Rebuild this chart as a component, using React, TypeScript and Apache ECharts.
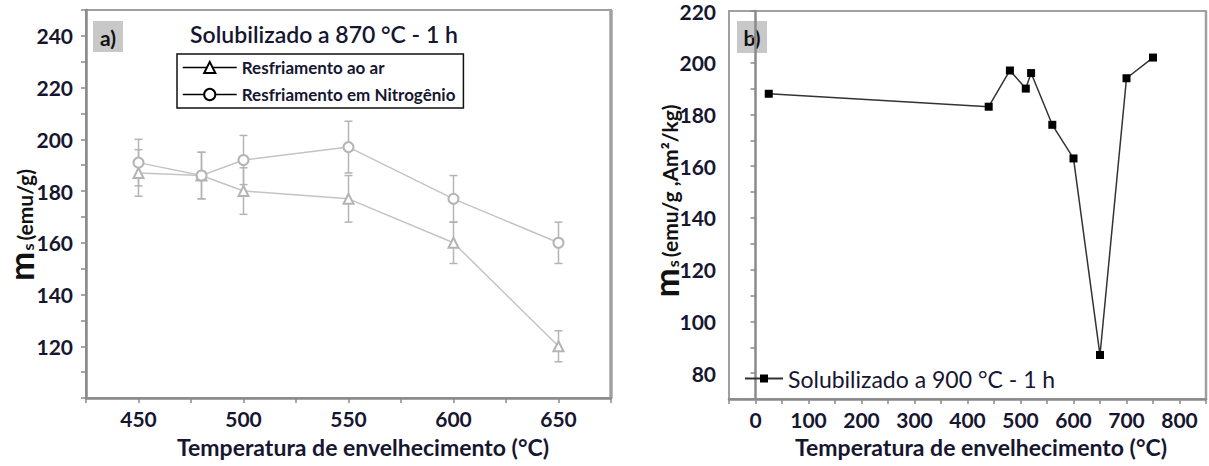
import React, { useEffect, useRef } from "react";
import * as echarts from "echarts";

// Panel a) data
const tempsA = [450, 480, 500, 550, 600, 650];
const airValues = [187, 186, 180, 177, 160, 120];
const airErrors = [9, 9, 9, 9, 8, 6];
const nitroValues = [191, 186, 192, 197, 177, 160];
const nitroErrors = [9, 9, 9.5, 10, 9, 8];

// Panel b) data
const tempsB = [25, 440, 480, 510, 520, 560, 600, 650, 700, 750];
const msB = [188, 183, 197, 190, 196, 176, 163, 87, 194, 202];

const FONT = "Lato, 'Open Sans', sans-serif";
const TXT = "#161630";

function errData(xs: number[], v: number[], e: number[]) {
  return xs.map((x, i) => [x, v[i] - e[i], v[i] + e[i]]);
}

export default function App() {
  const ref = useRef<HTMLDivElement>(null);
  useEffect(() => {
    document.body.style.margin = "0";
    const chart = echarts.init(ref.current!, null, { renderer: "svg" });

    const errRender = (params: any, api: any) => {
      const x = api.value(0);
      const lo = api.coord([x, api.value(1)]);
      const hi = api.coord([x, api.value(2)]);
      const w = 4;
      const st = { stroke: "#b4b4b4", lineWidth: 1.5 };
      return {
        type: "group",
        children: [
          { type: "line", shape: { x1: lo[0], y1: lo[1], x2: hi[0], y2: hi[1] }, style: st },
          { type: "line", shape: { x1: lo[0] - w, y1: lo[1], x2: lo[0] + w, y2: lo[1] }, style: st },
          { type: "line", shape: { x1: hi[0] - w, y1: hi[1], x2: hi[0] + w, y2: hi[1] }, style: st },
        ],
      };
    };

    const axisCommon = {
      axisLine: { show: true, lineStyle: { color: "#8a8a8a", width: 2.5 } },
      axisTick: { show: true, length: 5, lineStyle: { color: "#8a8a8a", width: 1.5 } },
      splitLine: { show: false },
    };
    const labelStyle = { color: TXT, fontFamily: FONT, fontWeight: "bold", fontSize: 21 };

    const yName = (t: string) => `{m|m}{s|s}{u|${t}}`;
    const yRich = {
      m: { fontSize: 35, fontWeight: "bold", fontFamily: FONT, fill: "#111", verticalAlign: "bottom" },
      s: { fontSize: 16, fontWeight: "bold", fontFamily: FONT, fill: "#111", verticalAlign: "bottom", padding: [0, 3, 2, 1] },
      u: { fontSize: 21, fontWeight: "bold", fontFamily: FONT, fill: "#111", verticalAlign: "bottom", padding: [0, 0, 3, 0] },
    };

    chart.setOption({
      animation: false,
      backgroundColor: "#fff",
      grid: [
        { left: 86, top: 10, width: 525, height: 388, show: true, borderColor: "#a0a0a0", borderWidth: 2 },
        { left: 729, top: 11, width: 477, height: 388, show: true, borderColor: "#a0a0a0", borderWidth: 2 },
      ],
      xAxis: [
        {
          gridIndex: 0, type: "value", min: 425, max: 675, interval: 25, ...axisCommon,
          axisLabel: { ...labelStyle, margin: 10, formatter: (v: number) => (v % 50 === 0 ? String(v) : "") },
        },
        {
          gridIndex: 1, type: "value", min: -50, max: 850, interval: 50, ...axisCommon,
          axisLabel: { ...labelStyle, margin: 10, formatter: (v: number) => (v % 100 === 0 && v >= 0 ? String(v) : "") },
        },
      ],
      yAxis: [
        {
          gridIndex: 0, type: "value", min: 100, max: 250, interval: 10, ...axisCommon,
          axisLabel: { ...labelStyle, margin: 13, formatter: (v: number) => (v % 20 === 0 && v >= 120 && v <= 240 ? String(v) : "") },
        },
        {
          gridIndex: 1, type: "value", min: 70, max: 220, interval: 10, ...axisCommon,
          axisLabel: { ...labelStyle, margin: 13, formatter: (v: number) => (v % 20 === 0 ? String(v) : "") },
        },
      ],
      legend: [
        {
          orient: "vertical", left: 177, top: 54,
          borderColor: "#111", borderWidth: 1.5, padding: [5, 8, 5, 5],
          itemWidth: 54, itemHeight: 14, itemGap: 10,
          textStyle: { color: TXT, fontFamily: FONT, fontWeight: "bold", fontSize: 17 },
          data: [
            { name: "Resfriamento ao ar", itemStyle: { color: "#000", borderColor: "#000", borderWidth: 1.5 }, lineStyle: { color: "#000", width: 1.5 } },
            { name: "Resfriamento em Nitrogênio", itemStyle: { color: "#000", borderColor: "#000", borderWidth: 1.5 }, lineStyle: { color: "#000", width: 1.5 } },
          ],
        },
        {
          orient: "vertical", left: 739, top: 362,
          itemWidth: 38, itemHeight: 10,
          textStyle: { color: TXT, fontFamily: FONT, fontSize: 23 },
          data: [{ name: "Solubilizado a 900 °C - 1 h" }],
        },
      ],
      series: [
        {
          type: "custom", name: "errAir", xAxisIndex: 0, yAxisIndex: 0, z: 1,
          renderItem: errRender, data: errData(tempsA, airValues, airErrors), encode: { x: 0, y: [1, 2] },
        },
        {
          type: "custom", name: "errN2", xAxisIndex: 0, yAxisIndex: 0, z: 1,
          renderItem: errRender, data: errData(tempsA, nitroValues, nitroErrors), encode: { x: 0, y: [1, 2] },
        },
        {
          type: "line", name: "Resfriamento ao ar", xAxisIndex: 0, yAxisIndex: 0, z: 3,
          data: tempsA.map((x, i) => [x, airValues[i]]),
          symbol: "emptyTriangle", symbolSize: 10,
          lineStyle: { color: "#c4c4c4", width: 1.5 },
          itemStyle: { color: "#b4b4b4", borderColor: "#b4b4b4", borderWidth: 1.5 },
        },
        {
          type: "line", name: "Resfriamento em Nitrogênio", xAxisIndex: 0, yAxisIndex: 0, z: 3,
          data: tempsA.map((x, i) => [x, nitroValues[i]]),
          symbol: "emptyCircle", symbolSize: 10,
          lineStyle: { color: "#c4c4c4", width: 1.5 },
          itemStyle: { color: "#b4b4b4", borderColor: "#b4b4b4", borderWidth: 1.5 },
        },
        {
          type: "line", name: "Solubilizado a 900 °C - 1 h", xAxisIndex: 1, yAxisIndex: 1, z: 3,
          data: tempsB.map((x, i) => [x, msB[i]]),
          symbol: "rect", symbolSize: 8,
          lineStyle: { color: "#333", width: 1.5 },
          itemStyle: { color: "#000" },
        },
      ],
      graphic: [
        { type: "line", shape: { x1: 611, y1: 10, x2: 611, y2: 398 }, style: { stroke: "#a0a0a0", lineWidth: 3.5 } },
        { type: "line", shape: { x1: 1206, y1: 11, x2: 1206, y2: 399 }, style: { stroke: "#a0a0a0", lineWidth: 2.5 } },
        { type: "rect", shape: { x: 93, y: 21, width: 30, height: 31 }, style: { fill: "#c8c8c8" } },
        { type: "text", x: 108, y: 37, style: { text: "a)", fill: "#111", font: `bold 21px ${FONT}`, align: "center", verticalAlign: "middle" } },
        { type: "rect", shape: { x: 737, y: 21, width: 30, height: 32 }, style: { fill: "#c8c8c8" } },
        { type: "text", x: 752, y: 37, style: { text: "b)", fill: "#111", font: `bold 21px ${FONT}`, align: "center", verticalAlign: "middle" } },
        { type: "text", x: 324, y: 34, style: { text: "Solubilizado a 870 °C - 1 h", fill: TXT, font: `600 23px ${FONT}`, align: "center", verticalAlign: "middle" } },
        { type: "text", x: 363, y: 447, style: { text: "Temperatura de envelhecimento (°C)", fill: TXT, font: `bold 23px ${FONT}`, align: "center", verticalAlign: "middle" } },
        { type: "text", x: 981, y: 447, style: { text: "Temperatura de envelhecimento (°C)", fill: TXT, font: `bold 23px ${FONT}`, align: "center", verticalAlign: "middle" } },
        {
          type: "text", x: 20, y: 225, rotation: Math.PI / 2,
          style: { text: yName("(emu/g)"), rich: yRich, align: "center", verticalAlign: "middle" },
        },
        {
          type: "text", x: 665, y: 201, rotation: Math.PI / 2,
          style: { text: yName("(emu/g ,Am²/kg)"), rich: yRich, align: "center", verticalAlign: "middle" },
        },
      ],
    });
    return () => chart.dispose();
  }, []);
  return <div ref={ref} style={{ width: 1209, height: 466 }} />;
}
